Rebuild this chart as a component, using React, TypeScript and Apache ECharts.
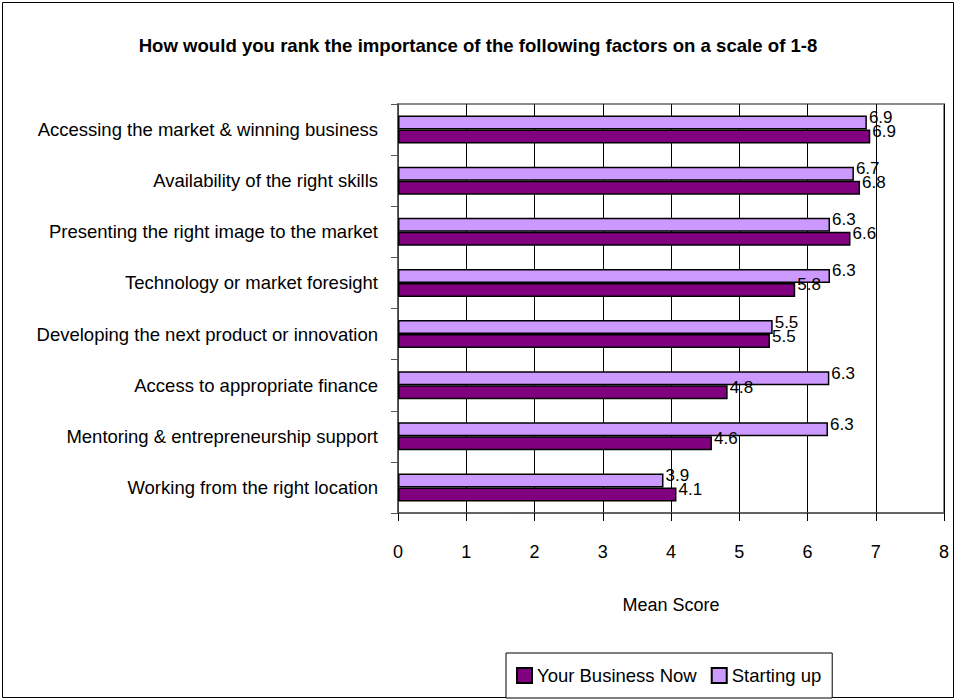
import React, { useEffect, useRef } from "react";
import * as echarts from "echarts";

const categories = [
  "Accessing the market & winning business",
  "Availability of the right skills",
  "Presenting the right image to the market",
  "Technology or market foresight",
  "Developing the next product or innovation",
  "Access to appropriate finance",
  "Mentoring & entrepreneurship support",
  "Working from the right location",
];
const startingUp = [6.87, 6.68, 6.33, 6.33, 5.49, 6.32, 6.3, 3.89];
const businessNow = [6.92, 6.77, 6.63, 5.82, 5.45, 4.83, 4.6, 4.08];
const xTicks = [0, 1, 2, 3, 4, 5, 6, 7, 8];
const title = "How would you rank the importance of the following factors on a scale of 1-8";

const FONT = "'Liberation Sans', Arial, sans-serif";

export default function App() {
  const ref = useRef<HTMLDivElement>(null);
  useEffect(() => {
    document.body.style.margin = "0";
    const chart = echarts.init(ref.current!, null, { renderer: "svg" });
    const labelFmt = (p: any) => Number(p.value).toFixed(1);
    chart.setOption({
      animation: false,
      backgroundColor: "#ffffff",
      textStyle: { fontFamily: FONT },
      title: {
        text: title,
        left: "center",
        top: 31,
        textStyle: { fontFamily: FONT, fontSize: 18.6, fontWeight: "bold", color: "#000" },
      },
      graphic: [
        {
          type: "rect",
          shape: { x: 2.5, y: 2.5, width: 951, height: 695 },
          style: { fill: "none", stroke: "#000", lineWidth: 1 },
          silent: true,
        },
      ],
      legend: {
        data: ["Your Business Now", "Starting up"],
        bottom: 1,
        left: 506,
        itemWidth: 15,
        itemHeight: 15,
        itemGap: 14,
        padding: [13, 11, 13, 10],
        borderColor: "#000",
        borderWidth: 1,
        backgroundColor: "#fff",
        icon: "rect",
        textStyle: { fontFamily: FONT, fontSize: 18.5, color: "#000" },
      },
      grid: {
        left: 398,
        right: 12,
        top: 104,
        bottom: 186,
        show: true,
        borderColor: "#8c8c8c",
        borderWidth: 2,
        backgroundColor: "#fff",
      },
      xAxis: {
        type: "value",
        min: 0,
        max: 8,
        interval: 1,
        name: "Mean Score",
        nameLocation: "middle",
        nameGap: 83,
        nameTextStyle: { fontFamily: FONT, fontSize: 18, color: "#000" },
        axisLine: { show: true, lineStyle: { color: "#555", width: 1.5 } },
        axisTick: { show: true, length: 8, lineStyle: { color: "#000" } },
        axisLabel: { margin: 30, fontFamily: FONT, fontSize: 18, color: "#000", formatter: (v: number) => (xTicks.includes(v) ? String(v) : "") },
        splitLine: { show: true, lineStyle: { color: "#000", width: 1 } },
      },
      yAxis: {
        type: "category",
        data: categories,
        inverse: true,
        axisLine: { show: true, lineStyle: { color: "#555", width: 1.5 } },
        axisTick: { show: true, length: 7, inside: false, lineStyle: { color: "#555" } },
        axisLabel: { margin: 20, fontFamily: FONT, fontSize: 18.5, color: "#000" },
        splitLine: { show: false },
      },
      series: [
        {
          name: "Starting up",
          type: "bar",
          data: startingUp,
          barWidth: 14,
          barGap: "0%",
          itemStyle: { color: "#cc99ff", borderColor: "#000", borderWidth: 1.5 },
          label: {
            show: true,
            position: "right",
            distance: 2,
            offset: [0, -5],
            formatter: labelFmt,
            fontFamily: FONT,
            fontSize: 17,
            color: "#000",
          },
        },
        {
          name: "Your Business Now",
          type: "bar",
          data: businessNow,
          barWidth: 14,
          barGap: "0%",
          itemStyle: { color: "#800080", borderColor: "#000", borderWidth: 1.5 },
          label: {
            show: true,
            position: "right",
            distance: 2,
            offset: [0, -5],
            formatter: labelFmt,
            fontFamily: FONT,
            fontSize: 17,
            color: "#000",
          },
        },
      ],
    });
    return () => chart.dispose();
  }, []);
  return <div ref={ref} style={{ position: "absolute", left: 0, top: 0, width: 956, height: 699 }} />;
}
